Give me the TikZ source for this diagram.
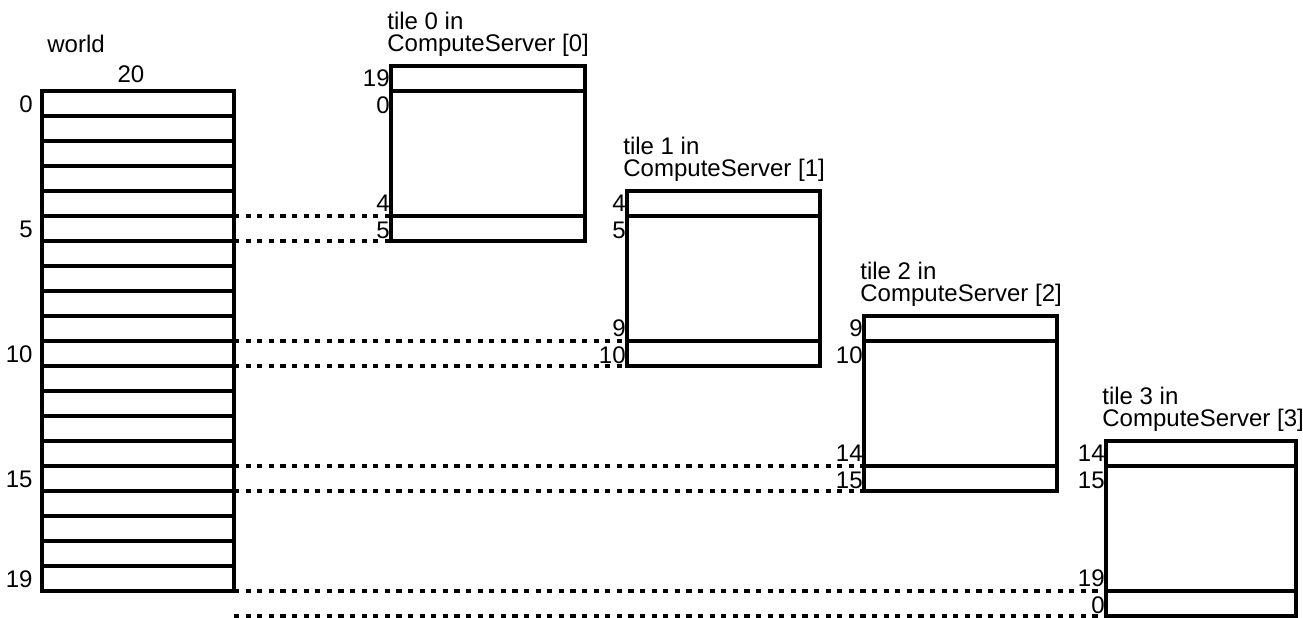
\documentclass[tikz,border=0pt]{standalone}
\usepackage{fontspec}
\setmainfont{Liberation Sans}
\usetikzlibrary{positioning}

\begin{document}
\begin{tikzpicture}[x=12.5pt,y=12.5pt,line join=miter,
    font=\fontsize{12}{11}\selectfont,
    cell/.style={draw,line width=1.8pt,inner sep=0pt,outer sep=0pt,minimum width=96pt,minimum height=12.5pt},
    tilebox/.style={draw,line width=1.8pt,inner sep=0pt,outer sep=0pt,minimum height=87.5pt,anchor=north west},
    lbl/.style={inner sep=0pt},
    link/.style={line width=1.8pt,dash pattern=on 2.6pt off 3.2pt}]
  \useasboundingbox (0,3.64) rectangle (52.12,-21.04);

  % world: 20 rows
  \foreach \i in {0,...,19}
    \node[cell] (r\i) at (5.52,-\i-0.5) {};
  \foreach \i in {0,5,10,15,19}
    \node[lbl,anchor=base east] (n\i) at (1.32,-\i-0.86) {\i};
  \node[lbl,anchor=base west] (world) at (1.88,1.56) {world};
  \node[lbl,anchor=base] (size) at (5.24,0.36) {20};

  % tiles with one halo row above and below
  \foreach \k/\l/\w in {0/15.64/7.76, 1/25.08/7.72, 2/34.56/7.72, 3/44.24/7.6} {
    \pgfmathtruncatemacro\a{mod(5*\k+19,20)}
    \pgfmathtruncatemacro\b{5*\k}
    \pgfmathtruncatemacro\c{5*\k+4}
    \pgfmathtruncatemacro\d{mod(5*\k+5,20)}
    \node[tilebox,minimum width=\w*12.5pt] (tile\k) at (\l,{1-5*\k}) {};
    \draw[line width=1.8pt] ([yshift=-12.5pt]tile\k.north west) -- ([yshift=-12.5pt]tile\k.north east);
    \draw[line width=1.8pt] ([yshift=12.5pt]tile\k.south west) -- ([yshift=12.5pt]tile\k.south east);
    \node[lbl,anchor=south west,align=left] (cap\k) at (\l-0.16,{1-5*\k+0.36}) {tile \k{} in\\ComputeServer [\k]};
    \node[lbl,anchor=base east] (ta\k) at (\l-0.04,{-5*\k+0.2}) {\a};
    \node[lbl,anchor=base east] (tb\k) at (\l-0.04,{-5*\k-0.88}) {\b};
    \node[lbl,anchor=base east] (tc\k) at (\l-0.04,{-5*\k-5+0.2}) {\c};
    \node[lbl,anchor=base east] (td\k) at (\l-0.04,{-5*\k-5-0.88}) {\d};
    % links back to the world rows
    \coordinate (s\k) at ([yshift=12.5pt]tile\k.south west);
    \draw[link] (r0.east |- s\k) -- (s\k);
    \draw[link] (r0.east |- tile\k.south west) -- (tile\k.south west);
  }
\end{tikzpicture}
\end{document}
